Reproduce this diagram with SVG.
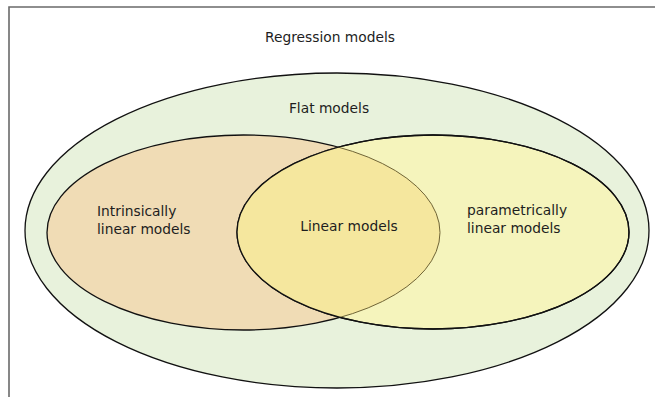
<svg xmlns="http://www.w3.org/2000/svg" width="655" height="397" viewBox="0 0 655 397">
<style>
.t{font-family:"DejaVu Sans","Verdana",sans-serif;font-size:13.8px;fill:#1e1e1e}
.e{stroke:#111;stroke-width:1.3}
</style>
<defs>
<clipPath id="cr"><ellipse cx="433" cy="232" rx="196" ry="97"/></clipPath>
</defs>
<rect width="655" height="397" fill="#fff"/>
<g id="frame" fill="none" stroke="#6a6a6a" stroke-width="1.6">
<path d="M9,397 V7 H655"/>
</g>
<text class="t" x="330" y="42" text-anchor="middle">Regression models</text>
<g id="flat">
<ellipse class="e" cx="337" cy="230.5" rx="312" ry="157.5" fill="#e8f2dc"/>
<text class="t" x="329" y="113" text-anchor="middle">Flat models</text>
</g>
<g id="intrinsic">
<ellipse class="e" cx="243.5" cy="232.5" rx="196.5" ry="97.5" fill="#f0dcb5"/>
</g>
<g id="parametric">
<ellipse class="e" cx="433" cy="232" rx="196" ry="97" fill="#f5f4bc"/>
</g>
<g id="linear">
<g clip-path="url(#cr)">
<ellipse cx="243.5" cy="232.5" rx="196.5" ry="97.5" fill="#f5e79e" stroke="#6f6436" stroke-width="1"/>
</g>
<ellipse class="e" cx="433" cy="232" rx="196" ry="97" fill="none"/>
<text class="t" x="349" y="231" text-anchor="middle">Linear models</text>
</g>
<text class="t" x="97" y="216">Intrinsically</text>
<text class="t" x="97" y="234">linear models</text>
<text class="t" x="467" y="215">parametrically</text>
<text class="t" x="467" y="233">linear models</text>
</svg>
